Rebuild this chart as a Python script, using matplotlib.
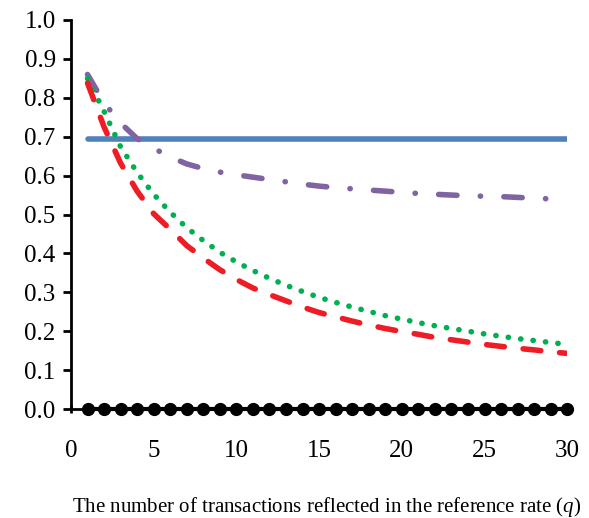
import numpy as np
import matplotlib
matplotlib.use("Agg")
import matplotlib.pyplot as plt

plt.rcParams['font.family'] = ['Liberation Serif', 'DejaVu Serif']
plt.rcParams['mathtext.fontset'] = 'custom'
plt.rcParams['mathtext.it'] = 'Liberation Serif:italic'
plt.rcParams['mathtext.rm'] = 'Liberation Serif'

q = np.arange(1, 31)
q_purple = np.arange(1, 30)

blue = [0.693] * 30
black = [0.0] * 30
red = [0.838, 0.725, 0.632, 0.560, 0.502, 0.462, 0.420, 0.388, 0.358, 0.333,
       0.311, 0.294, 0.278, 0.262, 0.248, 0.237, 0.226, 0.216, 0.207, 0.199,
       0.192, 0.184, 0.178, 0.172, 0.166, 0.161, 0.156, 0.152, 0.147, 0.143]
green = [0.850, 0.765, 0.674, 0.608, 0.552, 0.506, 0.466, 0.433, 0.403, 0.378,
         0.356, 0.336, 0.318, 0.302, 0.287, 0.274, 0.262, 0.251, 0.240, 0.231,
         0.222, 0.214, 0.207, 0.200, 0.193, 0.187, 0.181, 0.176, 0.171, 0.166]
purple = [0.860, 0.787, 0.735, 0.695, 0.670, 0.648, 0.630, 0.618, 0.609, 0.602,
          0.596, 0.590, 0.584, 0.578, 0.573, 0.569, 0.566, 0.563, 0.560, 0.557,
          0.554, 0.552, 0.550, 0.548, 0.547, 0.546, 0.544, 0.542, 0.540]

fig = plt.figure(figsize=(5.89, 5.18), dpi=100)
ax = fig.add_axes([0.1205, 0.2104, 0.8425, 0.751])

lw = 4.0
ax.plot(q, blue, color='#4F81BD', lw=lw, solid_capstyle='round', zorder=3)
l, = ax.plot(q_purple, purple, color='#8064A2', lw=lw, dash_capstyle='round', zorder=4)
l.set_dashes([3.3, 4.2, 0.05, 4.2])
l, = ax.plot(q, green, color='#00B050', lw=lw, dash_capstyle='round', zorder=4)
l.set_dashes([0.05, 2.2])
l, = ax.plot(q, red, color='#EE1C25', lw=lw, dash_capstyle='round', zorder=5)
l.set_dashes([3.2, 3.4])
ax.plot(q, black, color='black', lw=3, marker='o', markersize=8.5, zorder=6, clip_on=False)

ax.set_xlim(0, 30)
ax.set_ylim(0, 1.0)
ax.set_xticks(np.arange(0, 31, 5))
ax.set_yticks(np.arange(0, 1.01, 0.1))
ax.set_yticklabels([f"{v:.1f}" for v in np.arange(0, 1.01, 0.1)])

for s in ['top', 'right']:
    ax.spines[s].set_visible(False)
ax.spines['left'].set_linewidth(2)
ax.spines['bottom'].set_linewidth(2)
ax.tick_params(axis='y', direction='out', length=6, width=2, labelsize=18, pad=5)
ax.tick_params(axis='x', direction='inout', length=6, width=2, labelsize=18, pad=19)

ax.set_xlabel("The number of transactions reflected in the reference rate ($q$)",
              fontsize=15, labelpad=24)
ax.xaxis.label.set_x(0.516)

fig.savefig("out.png", dpi=100)
